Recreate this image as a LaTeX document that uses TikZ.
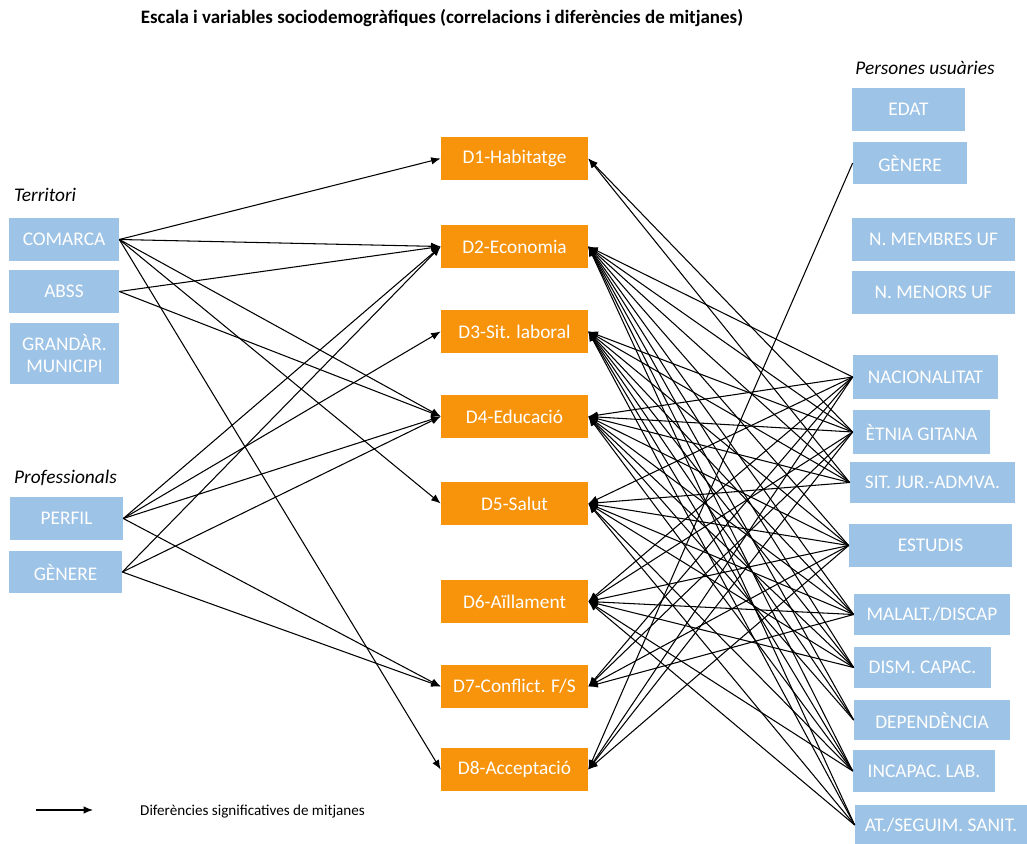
\documentclass[tikz,border=0pt]{standalone}
\usepackage{fontspec}
\setmainfont{Carlito}
\usetikzlibrary{arrows.meta}

\definecolor{varblue}{RGB}{157,195,230}
\definecolor{dimorange}{RGB}{247,148,12}

\tikzset{
	vbox/.style={rectangle, fill=varblue, text=white, minimum height=0.86cm, inner sep=0pt, font=\fontsize{11}{13}\selectfont},
	dbox/.style={rectangle, fill=dimorange, text=white, minimum width=2.94cm, minimum height=0.86cm, inner sep=0pt, font=\fontsize{11}{13}\selectfont},
	grouplbl/.style={anchor=west, font=\fontsize{11}{13}\selectfont\itshape},
	conn/.style={-{Latex[length=1.9mm,width=1.5mm]}, line width=0.6pt}
}

\begin{document}
\begin{tikzpicture}[x=0.02cm,y=-0.02cm]
			\useasboundingbox (0,0) rectangle (1027,844);
			\node[font=\fontsize{10.8}{12}\selectfont\bfseries] (title) at (442,18) {Escala i variables sociodemogràfiques (correlacions i diferències de mitjanes)};
			% territori i professionals
			\node[grouplbl] (terr) at (8,195) {Territori};
			\node[vbox, minimum width=2.2cm] (com) at (64,239.5) {COMARCA};
			\node[vbox, minimum width=2.2cm] (abss) at (64,291.5) {ABSS};
			\node[vbox, minimum width=2.18cm, minimum height=1.22cm, align=center] (grand) at (64.5,353.5) {GRANDÀR.\\MUNICIPI};
			\node[grouplbl] (prof) at (8,478) {Professionals};
			\node[vbox, minimum width=2.26cm] (perfil) at (66.5,518.5) {PERFIL};
			\node[vbox, minimum width=2.26cm] (genp) at (65.5,572) {GÈNERE};
			% dimensions
			\node[dbox] (d1) at (514.5,158.5) {D1-Habitatge};
			\node[dbox] (d2) at (514.5,246.5) {D2-Economia};
			\node[dbox] (d3) at (514.5,331.5) {D3-Sit. laboral};
			\node[dbox] (d4) at (514.5,416.5) {D4-Educació};
			\node[dbox] (d5) at (514.5,503.5) {D5-Salut};
			\node[dbox] (d6) at (514.5,601.5) {D6-Aïllament};
			\node[dbox] (d7) at (514.5,686.5) {D7-Conflict. F/S};
			\node[dbox] (d8) at (514.5,769.5) {D8-Acceptació};
			% persones usuaries
			\node[grouplbl, anchor=center] (pers) at (925,68) {Persones usuàries};
			\node[vbox, minimum width=2.26cm] (edat) at (908.5,109.5) {EDAT};
			\node[vbox, minimum width=2.28cm, minimum height=0.84cm] (genu) at (910,163) {GÈNERE};
			\node[vbox, minimum width=3.26cm] (memb) at (933.5,239.5) {N. MEMBRES UF};
			\node[vbox, minimum width=3.26cm] (meno) at (933.5,292.5) {N. MENORS UF};
			\node[vbox, minimum width=2.9cm, minimum height=0.88cm] (nac) at (925.5,377) {NACIONALITAT};
			\node[vbox, minimum width=2.74cm, minimum height=0.88cm] (etn) at (921.5,432) {ÈTNIA GITANA};
			\node[vbox, minimum width=3.3cm, minimum height=0.82cm] (sit) at (932.5,482.5) {SIT. JUR.-ADMVA.};
			\node[vbox, minimum width=3.26cm] (est) at (930.5,545.5) {ESTUDIS};
			\node[vbox, minimum width=3.12cm, minimum height=0.82cm] (mal) at (932,614.5) {MALALT./DISCAP};
			\node[vbox, minimum width=2.74cm, minimum height=0.82cm] (dism) at (922.5,667.5) {DISM. CAPAC.};
			\node[vbox, minimum width=3.12cm, minimum height=0.8cm] (dep) at (932,720) {DEPENDÈNCIA};
			\node[vbox, minimum width=2.84cm, minimum height=0.84cm] (inc) at (924,771) {INCAPAC. LAB.};
			\node[vbox, minimum width=3.44cm, minimum height=0.8cm] (at) at (941,825) {AT./SEGUIM. SANIT.};
			% fletxes
			\foreach \s/\t in {com/d1, com/d2, com/d4, com/d5, com/d8, abss/d2, abss/d4,
				perfil/d2, perfil/d3, perfil/d4, perfil/d7, genp/d2, genp/d4, genp/d7}
				\draw[conn] (\s.east) -- (\t.west);
			\foreach \s/\t in {etn/d1, sit/d1,
				nac/d2, etn/d2, sit/d2, est/d2, mal/d2, dism/d2, dep/d2, inc/d2, at/d2,
				etn/d3, sit/d3, est/d3, mal/d3, dism/d3, dep/d3, inc/d3, at/d3,
				nac/d4, etn/d4, sit/d4, est/d4, mal/d4, dism/d4, dep/d4, inc/d4,
				nac/d5, sit/d5, est/d5, mal/d5, dism/d5, inc/d5, at/d5,
				nac/d6, etn/d6, est/d6, mal/d6, dism/d6, inc/d6, at/d6,
				nac/d7, etn/d7, est/d7, mal/d7,
				genu/d8, nac/d8, etn/d8, est/d8}
				\draw[conn] (\s.west) -- (\t.east);
			% llegenda
			\coordinate (l1) at (36,810);
			\coordinate (l2) at (93,810);
			\draw[conn] (l1) -- (l2);
			\node[anchor=west, font=\fontsize{8.6}{10}\selectfont] (lleg) at (134,812) {Diferències significatives de mitjanes};
		\end{tikzpicture}
\end{document}
